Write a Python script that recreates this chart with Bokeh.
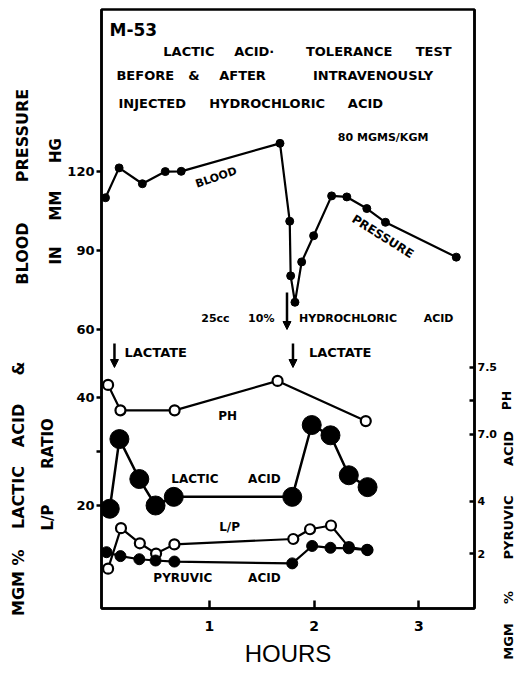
import math
from bokeh.plotting import figure
from bokeh.layouts import row
from bokeh.models import Range1d, LinearAxis, FixedTicker, Label, Arrow, NormalHead
from bokeh.embed import file_html
from bokeh.resources import INLINE

# ---------------- data ----------------
bp_hours = [0.007, 0.137, 0.359, 0.578, 0.730, 1.673, 1.766, 1.775, 1.816, 1.880,
            1.994, 2.166, 2.311, 2.502, 2.680, 3.356]
bp_mmhg = [110.0, 121.3, 115.3, 119.9, 120.0, 130.6, 101.1, 80.4, 70.4, 85.7,
           95.6, 110.7, 110.3, 105.9, 100.7, 87.5]

ph_hours = [0.032, 0.150, 0.667, 1.650, 2.492]
ph_values = [7.37, 7.18, 7.18, 7.40, 7.10]

lactic_hours = [0.048, 0.140, 0.330, 0.485, 0.659, 1.790, 1.976, 2.155, 2.330, 2.509]
lactic_mgm = [19.4, 32.3, 24.9, 20.0, 21.6, 21.6, 34.9, 33.0, 25.6, 23.4]

lp_hours = [0.032, 0.155, 0.335, 0.490, 0.665, 1.800, 1.960, 2.160, 2.330, 2.505]
lp_ratio = [8.3, 15.8, 13.0, 11.1, 12.8, 13.8, 15.6, 16.3, 12.3, 11.8]

pyr_hours = [0.017, 0.150, 0.330, 0.485, 0.665, 1.790, 1.980, 2.155, 2.330, 2.509]
pyr_mgm = [2.05, 1.90, 1.78, 1.73, 1.69, 1.62, 2.29, 2.22, 2.20, 2.13]

hour_ticks = [1, 2, 3]
bp_ticks = [60, 90, 120]
lactic_ticks = [20, 30, 40]
lactic_tick_labels = ["20", "", "40"]
ph_ticks = [7.0, 7.25, 7.5]
ph_tick_labels = ["7.0", "", "7.5"]
pyr_ticks = [2, 4]

# ---------------- scales ----------------
X = (-0.031, 3.53)
LAC = (0.926, 111.85)
BP = (-45.6, 181.3)
PH = (5.701, 10.172)
PYR = (-0.115, 22.92)

H = 672
LW, RW = 64, 18
MW = 517 - LW - RW
FL, FR, FT, FB = 100, 474, 9, 608   # frame edges in page pixels
BOLD = "DejaVu Sans"


def remap(v, src, dst):
    return round(dst[0] + (v - src[0]) * (dst[1] - dst[0]) / (src[1] - src[0]), 6)


def hx(sx):
    return X[0] + (sx - FL) * (X[1] - X[0]) / (FR - FL)


def ly(sy):
    return LAC[1] - (sy - FT) * (LAC[1] - LAC[0]) / (FB - FT)


p = figure(width=MW, height=H, x_range=Range1d(*X), y_range=Range1d(*LAC),
           output_backend="svg", toolbar_location=None, frame_align=False,
           min_border_left=FL - LW, min_border_right=(LW + MW) - FR,
           min_border_top=FT, min_border_bottom=H - FB)
p.extra_y_ranges = {"bp": Range1d(*BP), "ph": Range1d(*PH), "pyr": Range1d(*PYR)}
p.grid.visible = False
p.outline_line_color = "black"
p.outline_line_width = 2.5

# ---- left axis: lactic scale + blood-pressure scale ----
bp_pos = [remap(b, BP, LAC) for b in bp_ticks]
left_ticks = bp_pos + [float(t) for t in lactic_ticks]
left_over = {pos: str(b) for pos, b in zip(bp_pos, bp_ticks)}
left_over.update({float(t): lab for t, lab in zip(lactic_ticks, lactic_tick_labels)})
ya = p.yaxis[0]
ya.ticker = FixedTicker(ticks=left_ticks)
ya.major_label_overrides = left_over
ya.minor_tick_line_color = None
ya.major_tick_in = 0
ya.major_tick_out = 5
ya.major_tick_line_width = 2.5
ya.axis_line_width = 2.5
ya.major_label_text_font = BOLD
ya.major_label_text_font_style = "bold"
ya.major_label_text_font_size = "13px"
ya.major_label_text_color = "black"
ya.major_label_standoff = 2

# ---- right axis: pyruvic scale + pH scale ----
ph_pos = [remap(v, PH, PYR) for v in ph_ticks]
right_ticks = ph_pos + [float(t) for t in pyr_ticks]
right_over = {pos: lab for pos, lab in zip(ph_pos, ph_tick_labels)}
right_over.update({float(t): str(t) for t in pyr_ticks})
ra = LinearAxis(y_range_name="pyr", ticker=FixedTicker(ticks=right_ticks),
                major_label_overrides=right_over)
ra.minor_tick_line_color = None
ra.major_tick_in = 5
ra.major_tick_out = 0
ra.major_tick_line_width = 2.5
ra.axis_line_width = 2.5
ra.major_label_text_font = BOLD
ra.major_label_text_font_style = "bold"
ra.major_label_text_font_size = "11px"
ra.major_label_text_color = "black"
ra.major_label_standoff = 3
p.add_layout(ra, "right")

# ---- bottom axis ----
xa = p.xaxis[0]
xa.ticker = FixedTicker(ticks=hour_ticks)
xa.minor_tick_line_color = None
xa.major_tick_in = 8
xa.major_tick_out = 0
xa.major_tick_line_width = 2.5
xa.axis_line_width = 2.5
xa.major_label_text_font = BOLD
xa.major_label_text_font_style = "bold"
xa.major_label_text_font_size = "14px"
xa.major_label_text_color = "black"
xa.major_label_standoff = 12
xa.axis_label = "HOURS"
xa.axis_label_text_font = "Liberation Sans"
xa.axis_label_text_font_style = "normal"
xa.axis_label_text_font_size = "24px"
xa.axis_label_text_color = "black"
xa.axis_label_standoff = 6

# ---------------- series ----------------
p.line(bp_hours, bp_mmhg, y_range_name="bp", line_color="black", line_width=2.2)
p.scatter(bp_hours, bp_mmhg, y_range_name="bp", size=8, fill_color="black", line_color="black")

p.line(ph_hours, ph_values, y_range_name="ph", line_color="black", line_width=2.2)
p.scatter(ph_hours, ph_values, y_range_name="ph", size=10, fill_color="white",
          line_color="black", line_width=2.2)

p.line(lactic_hours, lactic_mgm, line_color="black", line_width=2.5)
p.scatter(lactic_hours, lactic_mgm, size=19, fill_color="black", line_color="black")

p.line(lp_hours, lp_ratio, line_color="black", line_width=2.2)
p.scatter(lp_hours, lp_ratio, size=10, fill_color="white", line_color="black", line_width=2.2)

p.line(pyr_hours, pyr_mgm, y_range_name="pyr", line_color="black", line_width=2.2)
p.scatter(pyr_hours, pyr_mgm, y_range_name="pyr", size=11, fill_color="black", line_color="black")


# ---------------- lettering inside the frame ----------------
def word(text, sx, sy, size, align="left", angle=0.0):
    p.add_layout(Label(x=hx(sx), y=ly(sy), text=text, text_font=BOLD,
                       text_font_style="bold", text_font_size=f"{size}px",
                       text_align=align, text_baseline="middle",
                       angle=angle, text_color="black"))


word("M-53", 108, 29, 17)
for t, sx in [("LACTIC", 162), ("ACID·", 233), ("TOLERANCE", 305), ("TEST", 415)]:
    word(t, sx, 51, 13)
for t, sx in [("BEFORE", 115), ("&", 187), ("AFTER", 218), ("INTRAVENOUSLY", 312)]:
    word(t, sx, 75, 13)
for t, sx in [("INJECTED", 117), ("HYDROCHLORIC", 208), ("ACID", 347)]:
    word(t, sx, 103, 13)
word("80 MGMS/KGM", 337, 137, 11)
word("BLOOD", 215, 177, 11, "center", math.radians(19))
word("PRESSURE", 382, 236, 12, "center", math.radians(-32))
for t, sx in [("25cc", 200), ("10%", 247), ("HYDROCHLORIC", 298), ("ACID", 423)]:
    word(t, sx, 318, 11)
word("LACTATE", 123, 352, 13)
word("LACTATE", 308, 352, 13)
word("PH", 217, 415, 12)
word("LACTIC", 170, 478, 12)
word("ACID", 247, 478, 12)
word("L/P", 218, 526, 12)
word("PYRUVIC", 152, 577, 12)
word("ACID", 247, 577, 12)

head = dict(size=8, fill_color="black", line_color="black")
p.add_layout(Arrow(end=NormalHead(**head), x_start=hx(286), y_start=ly(292),
                   x_end=hx(286), y_end=ly(329), line_width=2.5))
p.add_layout(Arrow(end=NormalHead(**head), x_start=hx(113), y_start=ly(343),
                   x_end=hx(113), y_end=ly(367), line_width=2.5))
p.add_layout(Arrow(end=NormalHead(**head), x_start=hx(292), y_start=ly(343),
                   x_end=hx(292), y_end=ly(367), line_width=2.5))


# ---------------- side panels for the vertical titles ----------------
def side_panel(w):
    s = figure(width=w, height=H, x_range=Range1d(0, w), y_range=Range1d(-H, 0),
               output_backend="svg", toolbar_location=None, frame_align=False,
               x_axis_location=None, y_axis_location=None,
               min_border_left=0, min_border_right=0, min_border_top=0, min_border_bottom=0)
    s.grid.visible = False
    s.outline_line_color = None
    return s


left = side_panel(LW)
right = side_panel(RW)
V = math.pi / 2


def vword(panel, x0, text, sx, sy, size):
    panel.add_layout(Label(x=sx - x0, y=-sy, text=text, text_font=BOLD,
                           text_font_style="bold", text_font_size=f"{size}px",
                           text_align="center", text_baseline="middle",
                           angle=V, text_color="black"))


for t, sy in [("BLOOD", 253), ("PRESSURE", 135)]:
    vword(left, 0, t, 22, sy, 16)
for t, sy in [("IN", 255), ("MM", 205), ("HG", 150)]:
    vword(left, 0, t, 55, sy, 15)
for t, sy in [("MGM", 593), ("%", 557), ("LACTIC", 497), ("ACID", 425), ("&", 368)]:
    vword(left, 0, t, 18, sy, 16)
for t, sy in [("L/P", 517), ("RATIO", 443)]:
    vword(left, 0, t, 47, sy, 15)

x0r = LW + MW
vword(right, x0r, "PH", 506, 400, 12)
for t, sy in [("MGM", 641), ("%", 597), ("PYRUVIC", 527), ("ACID", 448)]:
    vword(right, x0r, t, 508, sy, 13)

layout = row(left, p, right, spacing=0)
open("out.html", "w").write(file_html(layout, INLINE))
